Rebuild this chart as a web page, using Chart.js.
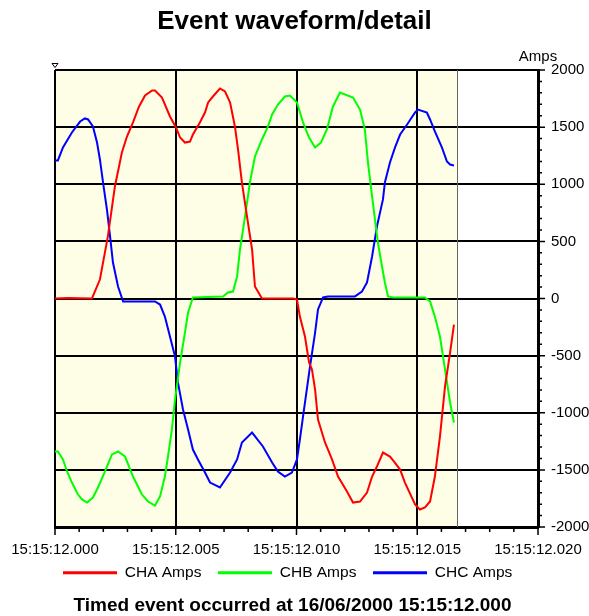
<!DOCTYPE html>
<html>
<head>
<meta charset="utf-8">
<title>Event waveform/detail</title>
<script src="https://cdn.jsdelivr.net/npm/chart.js@4/dist/chart.umd.min.js"></script>
<style>
  html, body { margin: 0; padding: 0; background: #fff; }
  #wrap { width: 589px; height: 616px; position: relative; }
</style>
</head>
<body>
<div id="wrap"><canvas id="wave"></canvas></div>
<script>
// time offsets in ms after 15:15:12.000, and current in amps
const chaTime = [0, 0.54, 1.53, 1.86, 2.19, 2.48, 2.77, 2.98, 3.23, 3.48, 3.73, 4.02, 4.14, 4.43, 4.76, 5.01, 5.18, 5.38, 5.59, 5.71, 6.00, 6.21, 6.34, 6.54, 6.83, 7.04, 7.25, 7.45, 7.58, 7.74, 7.95, 8.16, 8.28, 8.57, 9.86, 10.02, 10.14, 10.35, 10.52, 10.64, 10.77, 10.89, 11.18, 11.47, 11.72, 12.09, 12.34, 12.63, 12.92, 13.13, 13.33, 13.58, 13.87, 14.04, 14.29, 14.49, 14.91, 15.11, 15.32, 15.53, 15.73, 15.94, 16.15, 16.36, 16.52];
const chaAmps = [0, 5, 0, 166, 543, 980, 1278, 1418, 1541, 1681, 1777, 1821, 1821, 1759, 1593, 1497, 1409, 1365, 1374, 1435, 1541, 1628, 1716, 1768, 1838, 1812, 1716, 1506, 1304, 1015, 718, 429, 105, 0, 0, -9, -158, -333, -560, -621, -797, -1059, -1260, -1409, -1558, -1689, -1786, -1777, -1698, -1558, -1471, -1348, -1383, -1427, -1497, -1611, -1803, -1847, -1829, -1777, -1558, -1208, -770, -473, -228];

const chbTime = [0, 0.12, 0.33, 0.50, 0.70, 0.95, 1.12, 1.33, 1.57, 1.78, 2.07, 2.36, 2.61, 2.90, 3.23, 3.60, 3.85, 4.14, 4.35, 4.55, 4.68, 4.84, 4.97, 5.18, 5.38, 5.51, 5.71, 6.96, 7.16, 7.37, 7.54, 7.66, 7.87, 8.07, 8.28, 8.57, 8.82, 8.99, 9.23, 9.52, 9.73, 10.02, 10.27, 10.52, 10.77, 11.01, 11.26, 11.51, 11.80, 12.34, 12.63, 12.83, 12.96, 13.13, 13.25, 13.37, 13.54, 13.66, 13.79, 14.00, 14.16, 15.32, 15.53, 15.73, 15.94, 16.15, 16.36, 16.52];
const chbAmps = [-1339, -1339, -1409, -1514, -1611, -1716, -1759, -1786, -1742, -1654, -1514, -1365, -1339, -1383, -1558, -1716, -1777, -1812, -1733, -1558, -1383, -1147, -884, -560, -298, -123, 9, 18, 53, 61, 193, 429, 718, 1015, 1243, 1392, 1506, 1611, 1698, 1768, 1777, 1716, 1541, 1409, 1322, 1365, 1479, 1681, 1803, 1759, 1654, 1479, 1190, 893, 691, 490, 280, 140, 18, 9, 9, 9, -26, -158, -333, -621, -910, -1085];

const chcTime = [0, 0.12, 0.33, 0.70, 1.04, 1.24, 1.37, 1.57, 1.74, 1.86, 1.99, 2.15, 2.28, 2.40, 2.61, 2.82, 4.14, 4.35, 4.55, 4.76, 4.97, 5.09, 5.30, 5.51, 5.71, 5.92, 6.21, 6.42, 6.83, 7.25, 7.54, 7.74, 8.16, 8.61, 8.99, 9.23, 9.52, 9.81, 10.02, 10.14, 10.27, 10.56, 10.77, 10.89, 11.10, 11.30, 12.42, 12.71, 12.92, 13.13, 13.33, 13.58, 13.66, 13.87, 14.08, 14.29, 14.58, 14.91, 15.03, 15.40, 15.53, 15.73, 16.02, 16.23, 16.36, 16.52];
const chcAmps = [1208, 1208, 1322, 1453, 1549, 1576, 1567, 1506, 1365, 1217, 1015, 779, 543, 315, 105, -26, -26, -53, -158, -333, -508, -735, -972, -1147, -1322, -1409, -1523, -1611, -1654, -1523, -1409, -1260, -1173, -1295, -1435, -1514, -1558, -1523, -1409, -1234, -1033, -595, -298, -96, 9, 18, 18, 61, 140, 368, 630, 867, 1015, 1190, 1322, 1435, 1523, 1628, 1654, 1628, 1567, 1462, 1322, 1199, 1173, 1164];

const seriesNames = ['CHA Amps', 'CHB Amps', 'CHC Amps'];
const seriesColors = ['#FF0000', '#00FF00', '#0000FF'];
const xTicks = [0, 5, 10, 15, 20];          // labelled x ticks (ms)
const yTicks = [-2000, -1500, -1000, -500, 0, 500, 1000, 1500, 2000];
const recordEnd = 16.65;                    // end of the recorded window (ms)
const footerText = 'Timed event occurred at 16/06/2000 15:15:12.000';

const fontFamily = '"Liberation Sans", Arial, sans-serif';

function pts(ts, vs) {
    return ts.map((t, i) => ({ x: t, y: vs[i] }));
}

// yellow record background, closing line, tick marks, "Amps" caption and footer line
const decorPlugin = {
    id: 'decor',
    beforeDraw(chart) {
        const { ctx, chartArea, scales } = chart;
        const x0 = scales.x.getPixelForValue(0);
        const x1 = scales.x.getPixelForValue(recordEnd);
        ctx.save();
        ctx.fillStyle = '#FEFDE6';
        ctx.fillRect(x0, chartArea.top, x1 - x0, chartArea.bottom - chartArea.top);
        ctx.restore();
        // legend starts a little right of the plot edge, tight under the labels
        if (chart.legend) {
            chart.legend.left = chartArea.left - 8.6;
            chart.legend.top = scales.x.bottom - 9.6;
        }
    },
    beforeDatasetsDraw(chart) {
        const { ctx, chartArea, scales } = chart;
        const x1 = Math.round(scales.x.getPixelForValue(recordEnd)) + 0.5;
        ctx.save();
        ctx.strokeStyle = '#666';
        ctx.lineWidth = 1;
        ctx.beginPath();
        ctx.moveTo(x1, chartArea.top);
        ctx.lineTo(x1, chartArea.bottom);
        ctx.stroke();
        ctx.restore();
    },
    afterDraw(chart) {
        const { ctx, chartArea, scales } = chart;
        ctx.save();
        // major / minor tick marks, outside the plot
        ctx.strokeStyle = '#000';
        ctx.lineWidth = 1.5;
        ctx.beginPath();
        scales.x.ticks.forEach(t => {
            const px = scales.x.getPixelForValue(t.value);
            const len = xTicks.includes(Math.round(t.value)) ? 8 : 5;
            ctx.moveTo(px, chartArea.bottom);
            ctx.lineTo(px, chartArea.bottom + len);
        });
        scales.y.ticks.forEach(t => {
            const py = scales.y.getPixelForValue(t.value);
            const len = yTicks.includes(Math.round(t.value)) ? 7 : 4;
            ctx.moveTo(chartArea.right, py);
            ctx.lineTo(chartArea.right + len, py);
        });
        ctx.stroke();

        ctx.fillStyle = '#000';
        ctx.textAlign = 'center';
        ctx.textBaseline = 'middle';
        ctx.font = '15px ' + fontFamily;
        ctx.fillText('Amps', chartArea.right, chartArea.top - 13);
        ctx.font = 'bold 19px ' + fontFamily;
        ctx.fillText(footerText, chart.width / 2 - 2, chart.height - 10);
        // small cursor marker at the start of the record
        const x = chartArea.left;
        ctx.lineWidth = 1;
        ctx.beginPath();
        ctx.moveTo(x - 3, chartArea.top - 6.5);
        ctx.lineTo(x + 3, chartArea.top - 6.5);
        ctx.lineTo(x, chartArea.top - 2.5);
        ctx.closePath();
        ctx.stroke();
        ctx.restore();
    }
};

new Chart(document.getElementById('wave'), {
    type: 'line',
    data: {
        datasets: [
            { label: seriesNames[0], data: pts(chaTime, chaAmps) },
            { label: seriesNames[1], data: pts(chbTime, chbAmps) },
            { label: seriesNames[2], data: pts(chcTime, chcAmps) }
        ].map((d, i) => Object.assign(d, {
            borderColor: seriesColors[i],
            backgroundColor: seriesColors[i],
            borderWidth: 2,
            pointRadius: 0,
            tension: 0,
            fill: false
        }))
    },
    options: {
        responsive: true,
        maintainAspectRatio: false,
        devicePixelRatio: 1,
        animation: false,
        layout: { padding: { left: 0, right: 0, top: 0, bottom: 15.9 } },
        plugins: {
            title: {
                display: true,
                text: 'Event waveform/detail',
                color: '#000',
                font: { family: fontFamily, size: 26, weight: 'bold' },
                padding: { top: 6.4, bottom: 32.4 }
            },
            legend: {
                position: 'bottom',
                align: 'start',
                labels: {
                    color: '#000',
                    font: { family: fontFamily, size: 15.5 },
                    boxWidth: 54,
                    boxHeight: 3,
                    padding: 16.6,
                    generateLabels(chart) {
                        return Chart.defaults.plugins.legend.labels.generateLabels(chart)
                            .map(l => Object.assign(l, { lineWidth: 0 }));
                    }
                }
            },
            tooltip: { enabled: false }
        },
        scales: {
            x: {
                type: 'linear',
                min: 0,
                max: 20,
                border: { display: true, color: '#000', width: 3 },
                grid: {
                    color: c => xTicks.includes(Math.round(c.tick.value)) && c.tick.value < 20 ? '#000' : 'rgba(0,0,0,0)',
                    lineWidth: 2,
                    tickColor: 'rgba(0,0,0,0)',
                    tickLength: 8
                },
                ticks: {
                    stepSize: 1,
                    autoSkip: false,
                    maxRotation: 0,
                    padding: 6,
                    color: '#000',
                    font: { family: fontFamily, size: 15 },
                    callback: v => xTicks.includes(Math.round(v)) ? '15:15:12.' + String(Math.round(v)).padStart(3, '0') : ''
                },
                afterFit(scale) { scale.height = 31; }
            },
            y: {
                position: 'right',
                min: -2000,
                max: 2000,
                border: { display: true, color: '#000', width: 3 },
                grid: {
                    color: c => yTicks.includes(Math.round(c.tick.value)) && c.tick.value > -2000 ? '#000' : 'rgba(0,0,0,0)',
                    lineWidth: 2,
                    tickColor: 'rgba(0,0,0,0)',
                    tickLength: 7
                },
                ticks: {
                    stepSize: 100,
                    autoSkip: false,
                    padding: 6,
                    color: '#000',
                    font: { family: fontFamily, size: 15 },
                    callback: v => yTicks.includes(Math.round(v)) ? String(Math.round(v)) : ''
                },
                afterFit(scale) { scale.width = 51; }
            },
            // empty spacer on the left so the plot starts at the same place as the original
            spacer: {
                type: 'linear',
                position: 'left',
                min: 0,
                max: 1,
                grid: { display: false },
                border: { display: false },
                ticks: { display: false },
                afterFit(scale) { scale.width = 55; }
            }
        }
    },
    plugins: [decorPlugin]
});
</script>
</body>
</html>
